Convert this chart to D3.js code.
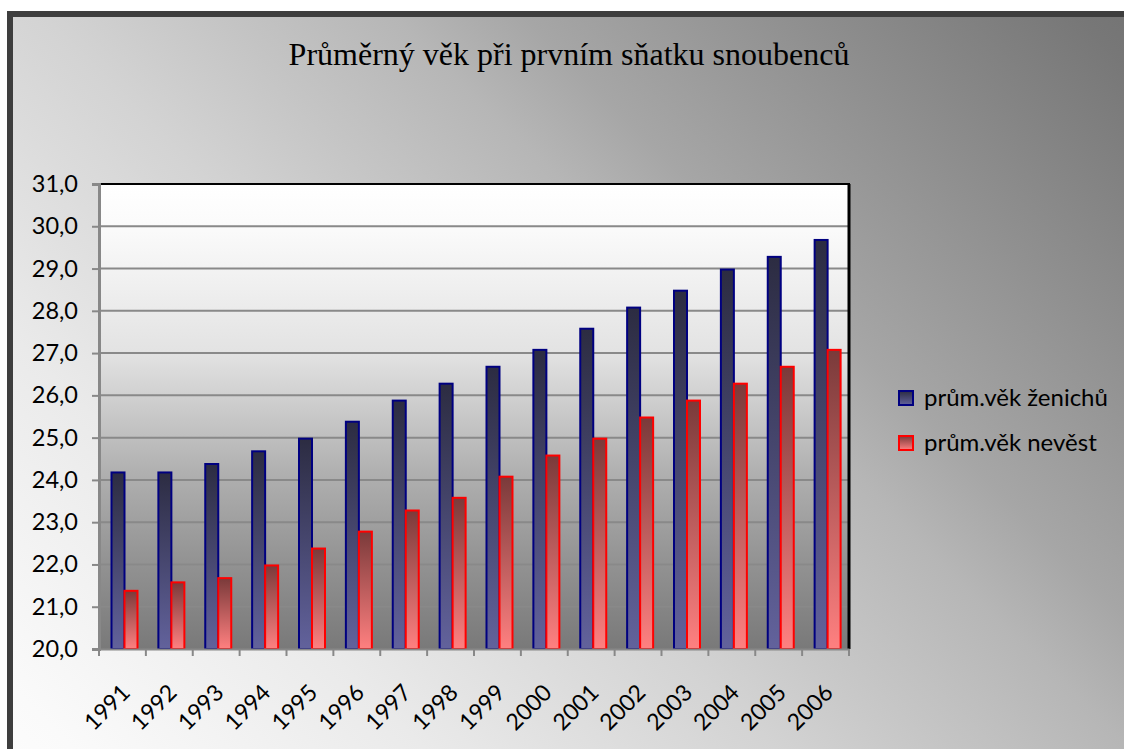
<!DOCTYPE html>
<html>
<head>
<meta charset="utf-8">
<script src="https://cdn.jsdelivr.net/npm/d3@7"></script>
<style>
  html, body { margin: 0; padding: 0; background: #ffffff; overflow: hidden; }
  svg { display: block; }
</style>
</head>
<body>
<script>
// ---- Data ----
const years = ["1991","1992","1993","1994","1995","1996","1997","1998","1999","2000","2001","2002","2003","2004","2005","2006"];
const groomAge = [24.2,24.2,24.4,24.7,25.0,25.4,25.9,26.3,26.7,27.1,27.6,28.1,28.5,29.0,29.3,29.7];
const brideAge = [21.4,21.6,21.7,22.0,22.4,22.8,23.3,23.6,24.1,24.6,25.0,25.5,25.9,26.3,26.7,27.1];
const seriesNames = ["prům.věk ženichů", "prům.věk nevěst"];
const yTicks = [20,21,22,23,24,25,26,27,28,29,30,31];
const title = "Průměrný věk při prvním sňatku snoubenců";

const W = 1124, H = 749;
const plot = { left: 99, right: 849, top: 184, bottom: 649 };

const svg = d3.select("body").append("svg").attr("width", W).attr("height", H);
const defs = svg.append("defs");

// background gradient (light bottom-left -> dark top-right)
const bg = defs.append("linearGradient").attr("id", "bgGrad")
  .attr("gradientUnits", "userSpaceOnUse")
  .attr("x1", 0).attr("y1", 749).attr("x2", 925).attr("y2", -176);
[[0,"#fcfcfc"],[0.04,"#fafafa"],[0.23,"#eaeaea"],[0.42,"#d3d3d3"],[0.61,"#b6b6b6"],[0.68,"#a6a6a6"],[0.98,"#777777"],[1,"#757575"]]
  .forEach(([o,c]) => bg.append("stop").attr("offset", o).attr("stop-color", c));

// plot area gradient
const pg = defs.append("linearGradient").attr("id", "plotGrad")
  .attr("x1", 0).attr("y1", 0).attr("x2", 0).attr("y2", 1);
[[0,"#ffffff"],[0.1,"#fafafa"],[0.36,"#e3e3e3"],[0.62,"#b0b0b0"],[0.81,"#939393"],[1,"#797979"]]
  .forEach(([o,c]) => pg.append("stop").attr("offset", o).attr("stop-color", c));

// bar gradients
const gBlue = defs.append("linearGradient").attr("id", "blueGrad")
  .attr("x1", 0).attr("y1", 0).attr("x2", 0).attr("y2", 1);
gBlue.append("stop").attr("offset", 0).attr("stop-color", "#2c2c42");
gBlue.append("stop").attr("offset", 1).attr("stop-color", "#62629c");
const gRed = defs.append("linearGradient").attr("id", "redGrad")
  .attr("x1", 0).attr("y1", 0).attr("x2", 0).attr("y2", 1);
gRed.append("stop").attr("offset", 0).attr("stop-color", "#7a3a3a");
gRed.append("stop").attr("offset", 1).attr("stop-color", "#ff8080");

// chart background + frame
svg.append("rect").attr("x", 10).attr("y", 14).attr("width", 1300).attr("height", 900)
  .attr("fill", "url(#bgGrad)").attr("stroke", "#3e3e3e").attr("stroke-width", 6);

// title
svg.append("text").attr("x", 569).attr("y", 65).attr("text-anchor", "middle")
  .attr("font-family", "'Liberation Serif', 'Times New Roman', serif")
  .attr("font-size", 32).attr("fill", "#000").text(title);

// scales
const x0 = d3.scaleBand().domain(years).range([plot.left, plot.right]).padding(0);
const x1 = d3.scaleBand().domain([0,1]).range([12.5, 38.5]).padding(0);
const y = d3.scaleLinear().domain([20, 31]).range([plot.bottom, plot.top]);

// plot area
svg.append("rect").attr("x", plot.left).attr("y", plot.top)
  .attr("width", plot.right - plot.left).attr("height", plot.bottom - plot.top)
  .attr("fill", "url(#plotGrad)");

// gridlines
svg.append("g").selectAll("line").data(yTicks.filter(t => t > 20 && t < 31)).join("line")
  .attr("x1", plot.left).attr("x2", plot.right)
  .attr("y1", d => y(d)).attr("y2", d => y(d))
  .attr("stroke", "#898989").attr("stroke-width", 2);

// bars
const series = [
  { values: groomAge, fill: "url(#blueGrad)", stroke: "#000080" },
  { values: brideAge, fill: "url(#redGrad)", stroke: "#ff0000" }
];
series.forEach((s, si) => {
  svg.append("g").selectAll("rect").data(years).join("rect")
    .attr("x", d => x0(d) + x1(si))
    .attr("y", (d, i) => y(s.values[i]) + 1)
    .attr("width", x1.bandwidth())
    .attr("height", (d, i) => y(20) - y(s.values[i]) - 1)
    .attr("fill", s.fill).attr("stroke", s.stroke).attr("stroke-width", 2);
});

// plot border (top/right black)
svg.append("line").attr("x1", plot.left).attr("x2", plot.right + 1)
  .attr("y1", plot.top).attr("y2", plot.top).attr("stroke", "#000").attr("stroke-width", 2);
svg.append("line").attr("x1", plot.right).attr("x2", plot.right)
  .attr("y1", plot.top).attr("y2", plot.bottom).attr("stroke", "#000").attr("stroke-width", 3);

// y axis
const yAxis = d3.axisLeft(y).tickValues(yTicks).tickSize(7).tickPadding(14)
  .tickFormat(d => d3.format(".1f")(d).replace(".", ","));
const gy = svg.append("g").attr("transform", `translate(${plot.left},0)`).call(yAxis);
gy.select(".domain").attr("stroke", "#888").attr("stroke-width", 3);
gy.selectAll(".tick line").attr("stroke", "#888").attr("stroke-width", 2);
gy.selectAll(".tick text").attr("font-family", "Lato, 'Open Sans', sans-serif")
  .attr("font-size", 23.5).attr("fill", "#000");

// x axis
const xAxis = d3.axisBottom(x0).tickSize(0).tickFormat("");
const gx = svg.append("g").attr("transform", `translate(0,${plot.bottom})`).call(xAxis);
gx.select(".domain").attr("stroke", "#888").attr("stroke-width", 2);
// boundary ticks
svg.append("g").selectAll("line").data(years.concat(["end"])).join("line")
  .attr("x1", (d, i) => plot.left + i * x0.step())
  .attr("x2", (d, i) => plot.left + i * x0.step())
  .attr("y1", plot.bottom).attr("y2", plot.bottom + 7)
  .attr("stroke", "#888").attr("stroke-width", 2);
// rotated labels
svg.append("g").selectAll("text").data(years).join("text")
  .attr("transform", d => `translate(${x0(d) + x0.bandwidth() / 2 + 9},${plot.bottom + 45}) rotate(-45)`)
  .attr("text-anchor", "end")
  .attr("font-family", "Lato, 'Open Sans', sans-serif")
  .attr("font-size", 23).attr("fill", "#000")
  .text(d => d);

// legend
const legend = svg.append("g");
const legFills = ["url(#blueGrad)", "url(#redGrad)"];
const legStrokes = ["#000080", "#ff0000"];
seriesNames.forEach((name, i) => {
  const ly = 391 + i * 45;
  legend.append("rect").attr("x", 899).attr("y", ly).attr("width", 14).attr("height", 14)
    .attr("fill", legFills[i]).attr("stroke", legStrokes[i]).attr("stroke-width", 2);
  legend.append("text").attr("x", 924).attr("y", ly + 15)
    .attr("font-family", "Lato, 'Open Sans', sans-serif")
    .attr("font-size", 24).attr("fill", "#000").text(name);
});
</script>
</body>
</html>
